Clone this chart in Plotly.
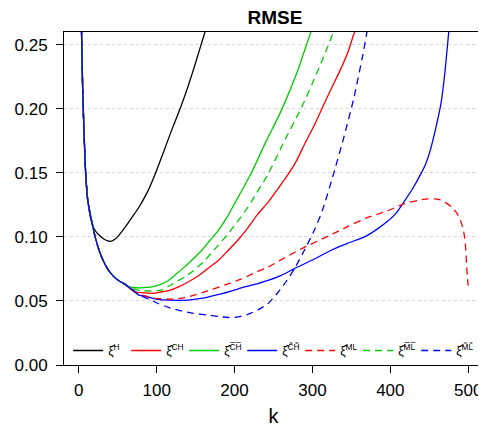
import plotly.graph_objects as go

# ---- data ----
k_H = [1, 3, 5, 8, 11, 15, 20, 26, 33, 41, 48, 55, 60, 68, 77, 88, 98, 108, 119, 130, 140, 150, 162, 170]
rmse_H = [0.6, 0.28, 0.215, 0.16, 0.132, 0.115, 0.106, 0.1015, 0.098, 0.0966, 0.099, 0.104, 0.108, 0.115,
          0.123, 0.135, 0.149, 0.165, 0.183, 0.2, 0.217, 0.236, 0.26, 0.275]

k_CH = [1, 3, 5, 8, 11, 14, 17, 21, 26, 31, 38, 45, 51, 58, 64, 72, 80, 95, 105, 115, 128, 141, 153, 166,
        180, 192, 205, 217, 230, 243, 255, 269, 280, 290, 303, 315, 326, 337, 346, 354, 360]
rmse_CH = [0.6, 0.28, 0.215, 0.16, 0.131, 0.12, 0.111, 0.1, 0.0896, 0.082, 0.074, 0.069, 0.066, 0.0635,
           0.0605, 0.057, 0.0565, 0.056, 0.057, 0.058, 0.061, 0.065, 0.0695, 0.0755, 0.082, 0.0896, 0.098,
           0.107, 0.118, 0.127, 0.137, 0.149, 0.16, 0.1726, 0.188, 0.204, 0.218, 0.232, 0.245, 0.26, 0.27]

k_CHbar = [1, 3, 5, 8, 11, 14, 17, 21, 26, 31, 38, 45, 51, 58, 64, 70, 78, 85, 94, 105, 115, 125, 136, 147,
           158, 168, 179, 190, 200, 210, 222, 240, 260, 281, 298, 305]
rmse_CHbar = [0.6, 0.28, 0.215, 0.16, 0.131, 0.12, 0.111, 0.1, 0.0896, 0.082, 0.074, 0.069, 0.066, 0.0635,
              0.061, 0.0605, 0.0602, 0.0605, 0.061, 0.063, 0.066, 0.071, 0.0766, 0.083, 0.0896, 0.097,
              0.105, 0.115, 0.126, 0.137, 0.1505, 0.174, 0.1986, 0.2297, 0.26, 0.27]

k_CHtil = [1, 3, 5, 8, 11, 14, 17, 21, 26, 31, 38, 45, 51, 58, 64, 72, 77, 84, 90, 100, 115, 128, 141, 155,
           166, 180, 192, 205, 217, 230, 243, 260, 277, 300, 324, 345, 367, 384, 396, 408, 416, 428, 439,
           446, 451, 458, 465, 470, 475, 478]
rmse_CHtil = [0.6, 0.28, 0.215, 0.16, 0.131, 0.12, 0.111, 0.1, 0.0896, 0.082, 0.074, 0.069, 0.066, 0.0635,
              0.061, 0.057, 0.0545, 0.054, 0.053, 0.0515, 0.0506, 0.0505, 0.0506, 0.0518, 0.053, 0.0552,
              0.057, 0.0595, 0.0615, 0.0636, 0.066, 0.07, 0.0753, 0.082, 0.0896, 0.095, 0.1, 0.1065,
              0.112, 0.119, 0.126, 0.137, 0.149, 0.158, 0.167, 0.184, 0.204, 0.228, 0.26, 0.28]

k_ML = [1, 3, 5, 8, 11, 14, 17, 21, 26, 31, 38, 45, 51, 58, 64, 72, 80, 90, 100, 115, 130, 145, 166, 190,
        208, 226, 243, 265, 290, 318, 345, 370, 395, 418, 435, 448, 462, 473, 480, 486, 490, 494, 496, 497,
        498, 499, 500]
rmse_ML = [0.6, 0.28, 0.215, 0.16, 0.131, 0.12, 0.111, 0.1, 0.0896, 0.082, 0.074, 0.069, 0.066, 0.0635,
           0.061, 0.0575, 0.055, 0.053, 0.052, 0.0515, 0.052, 0.054, 0.058, 0.063, 0.067, 0.072, 0.0765,
           0.084, 0.092, 0.1, 0.108, 0.115, 0.12, 0.126, 0.1285, 0.1297, 0.1293, 0.126, 0.1225, 0.118,
           0.113, 0.105, 0.097, 0.089, 0.077, 0.068, 0.062]

k_MLbar = [1, 3, 5, 8, 11, 14, 17, 21, 26, 31, 38, 45, 51, 58, 64, 72, 80, 94, 106, 118, 136, 150, 162, 177,
           192, 205, 217, 226, 243, 264, 286, 305, 318, 327, 335]
rmse_MLbar = [0.6, 0.28, 0.215, 0.16, 0.131, 0.12, 0.111, 0.1, 0.0896, 0.082, 0.074, 0.069, 0.066, 0.0635,
              0.061, 0.059, 0.058, 0.0578, 0.0585, 0.0625, 0.0688, 0.075, 0.0818, 0.092, 0.1026, 0.113,
              0.123, 0.132, 0.149, 0.175, 0.201, 0.227, 0.246, 0.26, 0.272]

k_MLtil = [1, 3, 5, 8, 11, 14, 17, 21, 26, 31, 38, 45, 51, 58, 64, 72, 80, 90, 102, 115, 128, 145, 166, 180,
           192, 205, 217, 230, 243, 255, 266, 277, 290, 303, 313, 327, 340, 353, 365, 370, 375]
rmse_MLtil = [0.6, 0.28, 0.215, 0.16, 0.131, 0.12, 0.111, 0.1, 0.0896, 0.082, 0.074, 0.069, 0.066, 0.0635,
              0.061, 0.057, 0.054, 0.0515, 0.048, 0.045, 0.0428, 0.0405, 0.039, 0.0378, 0.0371, 0.0375,
              0.0395, 0.043, 0.048, 0.056, 0.065, 0.0753, 0.09, 0.106, 0.121, 0.149, 0.177, 0.208, 0.243,
              0.26, 0.275]

series_names = ["ξ̂<sup>H</sup>", "ξ̂<sup>CH</sup>", "ξ̂<sup>C̅H̅</sup>", "ξ̂<sup>C̃H̃</sup>",
                "ξ̂<sup>ML</sup>", "ξ̂<sup>M̅L̅</sup>", "ξ̂<sup>M̃L̃</sup>"]
x_ticks = [0, 100, 200, 300, 400, 500]
y_ticks = [0.00, 0.05, 0.10, 0.15, 0.20, 0.25]

series = [
    (k_H, rmse_H, "black", "solid"),
    (k_CH, rmse_CH, "#FF0000", "solid"),
    (k_CHbar, rmse_CHbar, "#00CD00", "solid"),
    (k_CHtil, rmse_CHtil, "#0000FF", "solid"),
    (k_ML, rmse_ML, "#FF0000", "7px,5px"),
    (k_MLbar, rmse_MLbar, "#00CD00", "7px,5px"),
    (k_MLtil, rmse_MLtil, "#0000FF", "7px,5px"),
]

fig = go.Figure()
for (kx, ky, col, dash), name in zip(series, series_names):
    fig.add_trace(go.Scatter(x=kx, y=ky, mode="lines", name=name,
                             line=dict(color=col, width=1.3, dash=dash, shape="spline", smoothing=0.5)))

# the page body adds an 8px margin, so the figure is 8px smaller than the window
OFF = 8
W, H = 486 - OFF, 427 - OFF
FONT = "Liberation Sans, Arial, Helvetica, sans-serif"
fig.update_layout(
    width=W, height=H,
    margin=dict(l=64 - OFF, r=3, t=32 - OFF, b=62),
    paper_bgcolor="white", plot_bgcolor="white",
    font=dict(family=FONT, size=17, color="black"),
    title=dict(text="<b>RMSE</b>", x=(275 - OFF) / W, xanchor="center",
               y=1 - (17 - OFF) / H, yanchor="middle", yref="container",
               font=dict(size=19, family=FONT)),
    showlegend=True,
    legend=dict(orientation="h", x=0.01, xanchor="left", y=0.0, yanchor="bottom",
                bgcolor="rgba(0,0,0,0)", entrywidth=13, entrywidthmode="pixels",
                itemwidth=30, font=dict(size=12, family=FONT), tracegroupgap=0),
)
fig.update_xaxes(range=[-19, 519], tickvals=x_ticks, ticks="outside", ticklen=7,
                 tickcolor="black", showline=True, linecolor="black", linewidth=1, mirror=True,
                 showgrid=False, zeroline=False, ticklabelstandoff=3,
                 title=dict(text="k", standoff=10))
fig.update_yaxes(range=[0, 0.26], tickvals=y_ticks, tickformat=".2f", ticks="outside", ticklen=7,
                 tickcolor="black", showline=True, linecolor="black", linewidth=1, mirror=True,
                 showgrid=True, gridcolor="#d6d6d6", griddash="dot", gridwidth=1, zeroline=False,
                 ticklabelstandoff=5)

fig.write_html("out.html")
